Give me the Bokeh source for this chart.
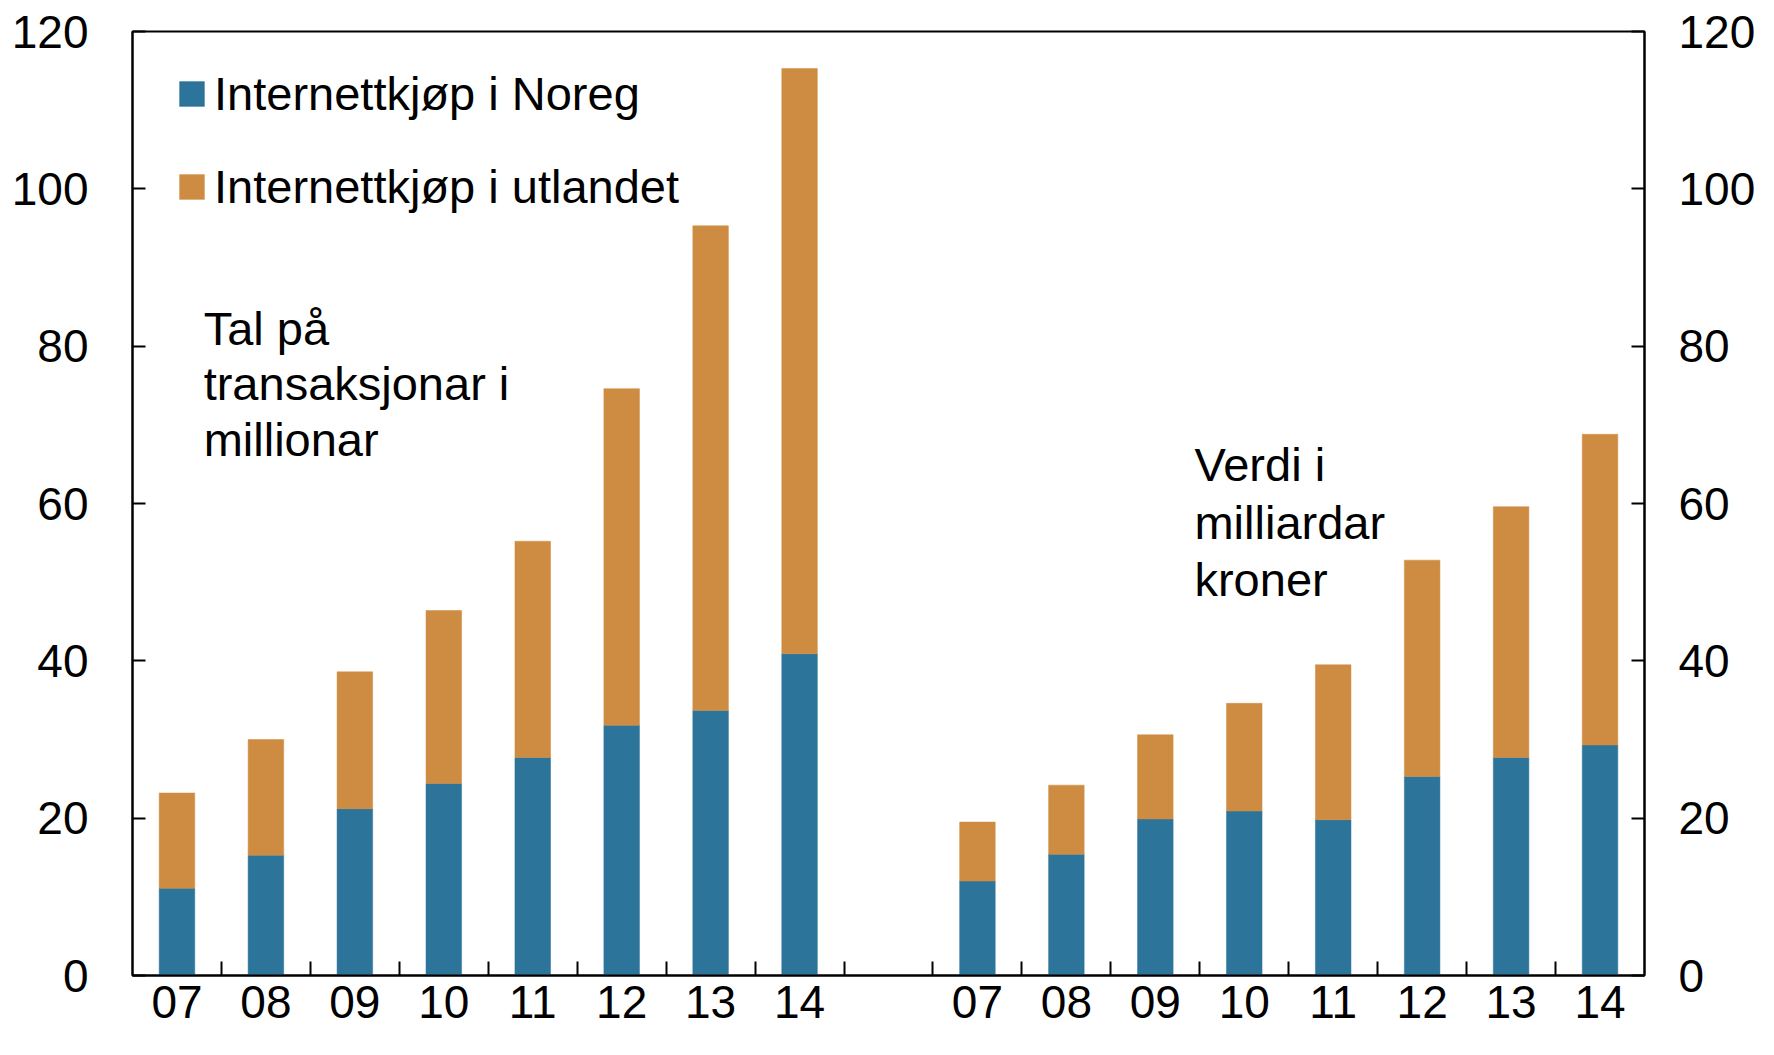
from bokeh.plotting import figure
from bokeh.models import (ColumnDataSource, LinearAxis, FixedTicker, Range1d,
                          Label, Legend, LegendItem)
from bokeh.embed import file_html
from bokeh.resources import INLINE

# ---- data ----
years = ["07", "08", "09", "10", "11", "12", "13", "14"]
# Number of transactions, millions
count_noreg = [11.1, 15.3, 21.2, 24.4, 27.7, 31.8, 33.7, 40.9]
count_utland = [12.1, 14.7, 17.4, 22.0, 27.5, 42.8, 61.6, 74.4]
# Value, billion NOK
value_noreg = [12.0, 15.4, 19.9, 20.9, 19.8, 25.3, 27.7, 29.3]
value_utland = [7.5, 8.8, 10.7, 13.7, 19.7, 27.5, 31.9, 39.5]

y_ticks = [0, 20, 40, 60, 80, 100, 120]
series_names = ["Internettkjøp i Noreg", "Internettkjøp i utlandet"]

BLUE = "#2C7499"
ORANGE = "#CE8C42"
FONT = "Liberation Sans"

n = len(years)
gap = 1
x_left = [i + 0.5 for i in range(n)]
x_right = [i + n + gap + 0.5 for i in range(n)]
n_slots = 2 * n + gap

source = ColumnDataSource(dict(
    x=x_left + x_right,
    noreg=count_noreg + value_noreg,
    utland=count_utland + value_utland,
))

W, H = 1758, 1039
p = figure(width=W, height=H, output_backend="svg", toolbar_location=None,
           x_range=Range1d(0, n_slots), y_range=Range1d(0, 120),
           min_border_left=132, min_border_right=W - 1646,
           min_border_top=31, min_border_bottom=H - 975,
           x_axis_location=None, y_axis_location=None)
p.grid.visible = False
p.outline_line_color = "black"
p.outline_line_width = 2
p.background_fill_color = "white"
p.border_fill_color = "white"

renderers = p.vbar_stack(["noreg", "utland"], x="x", width=0.4,
                         color=[BLUE, ORANGE], line_color=[BLUE, ORANGE],
                         line_width=0.5, source=source)

# ---- axes ----
centers = x_left + x_right
overrides = {c: lab for c, lab in zip(centers, years + years)}
xaxis = LinearAxis(ticker=FixedTicker(ticks=centers,
                                      minor_ticks=list(range(1, n_slots))),
                   major_label_overrides=overrides)
xaxis.major_tick_in = 0
xaxis.major_tick_out = 0
xaxis.minor_tick_in = 14
xaxis.minor_tick_out = 0
xaxis.minor_tick_line_width = 2
xaxis.minor_tick_line_color = "black"
xaxis.axis_line_width = 2
xaxis.axis_line_color = "black"
xaxis.major_label_standoff = 10
xaxis.major_label_text_font = FONT
xaxis.major_label_text_font_size = "46px"
xaxis.major_label_text_color = "black"
p.add_layout(xaxis, "below")

for side, standoff in (("left", 44), ("right", 34)):
    ax = LinearAxis(ticker=FixedTicker(ticks=y_ticks, minor_ticks=[]))
    ax.major_tick_in = 13
    ax.major_tick_out = 0
    ax.major_tick_line_width = 2
    ax.major_tick_line_color = "black"
    ax.minor_tick_line_color = None
    ax.axis_line_width = 2
    ax.axis_line_color = "black"
    ax.major_label_standoff = standoff
    ax.major_label_text_font = FONT
    ax.major_label_text_font_size = "46px"
    ax.major_label_text_color = "black"
    p.add_layout(ax, side)

# ---- legend ----
legend = Legend(items=[LegendItem(label=series_names[0], renderers=[renderers[0]]),
                       LegendItem(label=series_names[1], renderers=[renderers[1]])],
                location=(44, 761))
legend.label_text_font = FONT
legend.label_text_font_size = "47px"
legend.label_text_color = "black"
legend.glyph_width = 31
legend.glyph_height = 31
legend.label_height = 55
legend.label_standoff = 7
legend.spacing = 38
legend.padding = 0
legend.margin = 0
legend.border_line_alpha = 0
legend.background_fill_alpha = 0
p.add_layout(legend)

# ---- text annotations ----
left_note = ["Tal på", "transaksjonar i", "millionar"]
left_note_y = [82.3, 75.2, 68.1]
right_note = ["Verdi i", "milliardar", "kroner"]
right_note_y = [65.0, 57.6, 50.4]

for txt, yy in zip(left_note, left_note_y):
    p.add_layout(Label(x=0.80, y=yy, text=txt, text_font=FONT,
                       text_font_size="47px", text_color="black",
                       text_baseline="alphabetic"))
for txt, yy in zip(right_note, right_note_y):
    p.add_layout(Label(x=11.94, y=yy, text=txt, text_font=FONT,
                       text_font_size="47px", text_color="black",
                       text_baseline="alphabetic"))

open("out.html", "w").write(file_html(p, INLINE))
